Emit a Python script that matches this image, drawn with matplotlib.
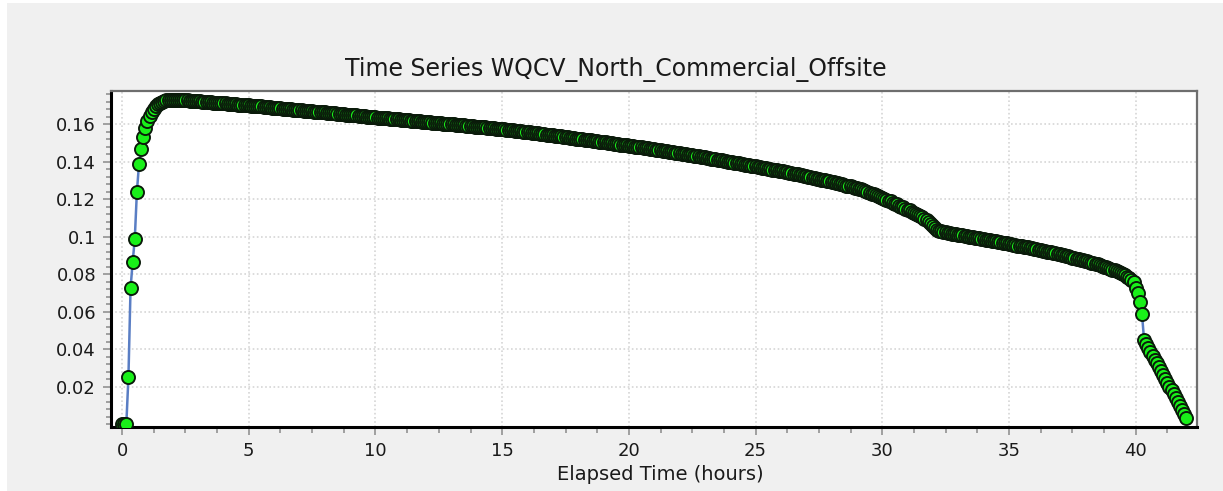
import numpy as np
import matplotlib
matplotlib.use("Agg")
import matplotlib.pyplot as plt
from matplotlib.ticker import MultipleLocator, FuncFormatter
from matplotlib.patches import Rectangle

plot_title = "Time Series WQCV_North_Commercial_Offsite"
x_label = "Elapsed Time (hours)"

# report step of the model output (5 minutes)
report_step_hr = 5 / 60

# flow at each report step, one row per hour
flow = [
    0.0, 0.0, 0.0, 0.0252, 0.0726, 0.0865, 0.0988, 0.1238, 0.1387, 0.1467, 0.1532, 0.1580,
    0.1617, 0.1645, 0.1667, 0.1684, 0.1697, 0.1707, 0.1715, 0.1721, 0.1725, 0.1728, 0.1730, 0.1731,
    0.1732, 0.1732, 0.1732, 0.1731, 0.1730, 0.1729, 0.1728, 0.1727, 0.1726, 0.1725, 0.1724, 0.1724,
    0.1723, 0.1722, 0.1721, 0.1720, 0.1719, 0.1718, 0.1717, 0.1716, 0.1715, 0.1714, 0.1713, 0.1713,
    0.1712, 0.1711, 0.1710, 0.1709, 0.1708, 0.1707, 0.1706, 0.1705, 0.1704, 0.1703, 0.1702, 0.1702,
    0.1701, 0.1700, 0.1699, 0.1698, 0.1697, 0.1696, 0.1695, 0.1694, 0.1693, 0.1691, 0.1690, 0.1689,
    0.1688, 0.1687, 0.1686, 0.1685, 0.1684, 0.1683, 0.1682, 0.1680, 0.1679, 0.1678, 0.1677, 0.1676,
    0.1675, 0.1674, 0.1673, 0.1672, 0.1671, 0.1670, 0.1669, 0.1668, 0.1667, 0.1666, 0.1665, 0.1664,
    0.1663, 0.1662, 0.1661, 0.1660, 0.1659, 0.1658, 0.1657, 0.1655, 0.1654, 0.1653, 0.1652, 0.1651,
    0.1650, 0.1649, 0.1648, 0.1647, 0.1646, 0.1645, 0.1644, 0.1642, 0.1641, 0.1640, 0.1639, 0.1638,
    0.1637, 0.1636, 0.1635, 0.1634, 0.1633, 0.1632, 0.1631, 0.1630, 0.1629, 0.1628, 0.1627, 0.1626,
    0.1625, 0.1624, 0.1623, 0.1622, 0.1621, 0.1620, 0.1619, 0.1617, 0.1616, 0.1615, 0.1614, 0.1613,
    0.1612, 0.1611, 0.1610, 0.1609, 0.1608, 0.1607, 0.1606, 0.1605, 0.1604, 0.1603, 0.1602, 0.1601,
    0.1600, 0.1599, 0.1598, 0.1597, 0.1596, 0.1595, 0.1594, 0.1592, 0.1591, 0.1590, 0.1589, 0.1588,
    0.1587, 0.1586, 0.1585, 0.1584, 0.1583, 0.1582, 0.1581, 0.1579, 0.1578, 0.1577, 0.1576, 0.1575,
    0.1574, 0.1573, 0.1571, 0.1570, 0.1569, 0.1567, 0.1566, 0.1565, 0.1563, 0.1562, 0.1561, 0.1559,
    0.1558, 0.1557, 0.1555, 0.1554, 0.1552, 0.1551, 0.1550, 0.1548, 0.1547, 0.1545, 0.1544, 0.1542,
    0.1541, 0.1539, 0.1538, 0.1536, 0.1535, 0.1533, 0.1532, 0.1530, 0.1529, 0.1527, 0.1526, 0.1524,
    0.1523, 0.1521, 0.1520, 0.1518, 0.1517, 0.1515, 0.1514, 0.1512, 0.1511, 0.1509, 0.1508, 0.1506,
    0.1505, 0.1503, 0.1502, 0.1500, 0.1499, 0.1497, 0.1495, 0.1494, 0.1492, 0.1491, 0.1489, 0.1488,
    0.1486, 0.1484, 0.1483, 0.1481, 0.1479, 0.1478, 0.1476, 0.1474, 0.1473, 0.1471, 0.1469, 0.1468,
    0.1466, 0.1464, 0.1463, 0.1461, 0.1459, 0.1457, 0.1456, 0.1454, 0.1452, 0.1450, 0.1449, 0.1447,
    0.1445, 0.1443, 0.1441, 0.1440, 0.1438, 0.1436, 0.1434, 0.1432, 0.1430, 0.1429, 0.1427, 0.1425,
    0.1423, 0.1421, 0.1419, 0.1417, 0.1415, 0.1413, 0.1411, 0.1409, 0.1407, 0.1405, 0.1403, 0.1401,
    0.1399, 0.1397, 0.1395, 0.1393, 0.1391, 0.1389, 0.1387, 0.1385, 0.1383, 0.1381, 0.1379, 0.1377,
    0.1375, 0.1373, 0.1371, 0.1369, 0.1367, 0.1365, 0.1363, 0.1360, 0.1358, 0.1356, 0.1354, 0.1352,
    0.1350, 0.1348, 0.1346, 0.1343, 0.1341, 0.1339, 0.1337, 0.1334, 0.1332, 0.1330, 0.1328, 0.1325,
    0.1323, 0.1320, 0.1318, 0.1315, 0.1313, 0.1310, 0.1308, 0.1305, 0.1303, 0.1300, 0.1298, 0.1295,
    0.1293, 0.1290, 0.1287, 0.1285, 0.1282, 0.1279, 0.1276, 0.1273, 0.1271, 0.1268, 0.1265, 0.1262,
    0.1260, 0.1256, 0.1252, 0.1248, 0.1244, 0.1239, 0.1235, 0.1230, 0.1226, 0.1221, 0.1217, 0.1212,
    0.1208, 0.1203, 0.1198, 0.1193, 0.1188, 0.1182, 0.1177, 0.1172, 0.1166, 0.1161, 0.1156, 0.1150,
    0.1145, 0.1140, 0.1134, 0.1128, 0.1122, 0.1116, 0.1110, 0.1104, 0.1097, 0.1089, 0.1079, 0.1067,
    0.1055, 0.1044, 0.1036, 0.1031, 0.1028, 0.1025, 0.1023, 0.1021, 0.1019, 0.1017, 0.1015, 0.1013,
    0.1011, 0.1009, 0.1007, 0.1005, 0.1003, 0.1001, 0.0999, 0.0997, 0.0995, 0.0993, 0.0991, 0.0989,
    0.0987, 0.0985, 0.0983, 0.0981, 0.0979, 0.0977, 0.0975, 0.0972, 0.0970, 0.0968, 0.0966, 0.0964,
    0.0962, 0.0960, 0.0958, 0.0955, 0.0953, 0.0951, 0.0949, 0.0947, 0.0945, 0.0943, 0.0940, 0.0938,
    0.0936, 0.0934, 0.0931, 0.0929, 0.0926, 0.0924, 0.0921, 0.0919, 0.0916, 0.0914, 0.0911, 0.0909,
    0.0906, 0.0903, 0.0900, 0.0898, 0.0895, 0.0892, 0.0889, 0.0886, 0.0883, 0.0880, 0.0878, 0.0875,
    0.0872, 0.0869, 0.0866, 0.0862, 0.0859, 0.0855, 0.0852, 0.0848, 0.0845, 0.0841, 0.0837, 0.0834,
    0.0830, 0.0825, 0.0821, 0.0816, 0.0811, 0.0806, 0.0800, 0.0794, 0.0787, 0.0779, 0.0770, 0.0758,
    0.0726, 0.0700, 0.0653, 0.0588, 0.0449, 0.0428, 0.0407, 0.0387, 0.0366, 0.0345, 0.0325, 0.0304,
    0.0283, 0.0263, 0.0242, 0.0221, 0.0201, 0.0180, 0.0159, 0.0139, 0.0118, 0.0097, 0.0077, 0.0056,
    0.0035,
]

x_major_ticks = [0, 5, 10, 15, 20, 25, 30, 35, 40]
y_major_ticks = [0.02, 0.04, 0.06, 0.08, 0.1, 0.12, 0.14, 0.16]

elapsed_hr = np.arange(len(flow)) * report_step_hr

W, H = 1223, 491
fig = plt.figure(figsize=(W / 100, H / 100), dpi=100)
fig.patch.set_facecolor("white")
# grey panel behind everything (thin white strip on left/top)
fig.patches.append(Rectangle((7 / W, 0), 1, 1 - 3 / H, transform=fig.transFigure,
                             facecolor="#f0f0f0", edgecolor="none", zorder=-10))

left, right, top, bottom = 110.7, 1196.7, 90.7, 427.0
ax = fig.add_axes([left / W, 1 - bottom / H, (right - left) / W, (bottom - top) / H])
ax.set_facecolor("white")

ax.plot(elapsed_hr, flow, color="#5a7ec4", lw=1.8, marker="o", markersize=9.4,
        markerfacecolor="#19f019", markeredgecolor="#0a1a0a", markeredgewidth=1.35, zorder=3)

ax.set_xlim(-0.45, 42.41)
ax.set_ylim(-0.0015, 0.1779)

ax.xaxis.set_major_locator(plt.FixedLocator(x_major_ticks))
ax.xaxis.set_minor_locator(MultipleLocator(1.25))
ax.yaxis.set_major_locator(plt.FixedLocator(y_major_ticks))
ax.yaxis.set_minor_locator(MultipleLocator(0.004))
ax.yaxis.set_major_formatter(FuncFormatter(lambda v, p: "%g" % round(v, 3)))

ax.tick_params(axis="both", which="major", direction="out", color="#8a8a8a", width=1.1,
               labelsize=13, labelcolor="#1a1a1a")
ax.tick_params(axis="x", which="major", length=6, pad=5)
ax.tick_params(axis="x", which="minor", length=4.5, color="#8a8a8a", width=1.1)
ax.tick_params(axis="y", which="major", length=6, pad=4.5)
ax.tick_params(axis="y", which="minor", length=3.5, color="#8a8a8a", width=1.1)

ax.grid(True, which="major", color="#d6d6d6", linestyle=(0, (1, 1.5)), lw=1.2, zorder=0)
ax.set_axisbelow(True)

for s in ("left", "bottom"):
    ax.spines[s].set_color("black")
    ax.spines[s].set_linewidth(2.2)
for s in ("top", "right"):
    ax.spines[s].set_color("#6e6e6e")
    ax.spines[s].set_linewidth(1.6)

fig.text(615.5 / W, 1 - 76 / H, plot_title, ha="center", va="baseline",
         fontsize=17, color="#1a1a1a")
fig.text(660 / W, 1 - 480 / H, x_label, ha="center", va="baseline",
         fontsize=14, color="#1a1a1a")

fig.savefig("out.png", dpi=100, facecolor=fig.get_facecolor())
